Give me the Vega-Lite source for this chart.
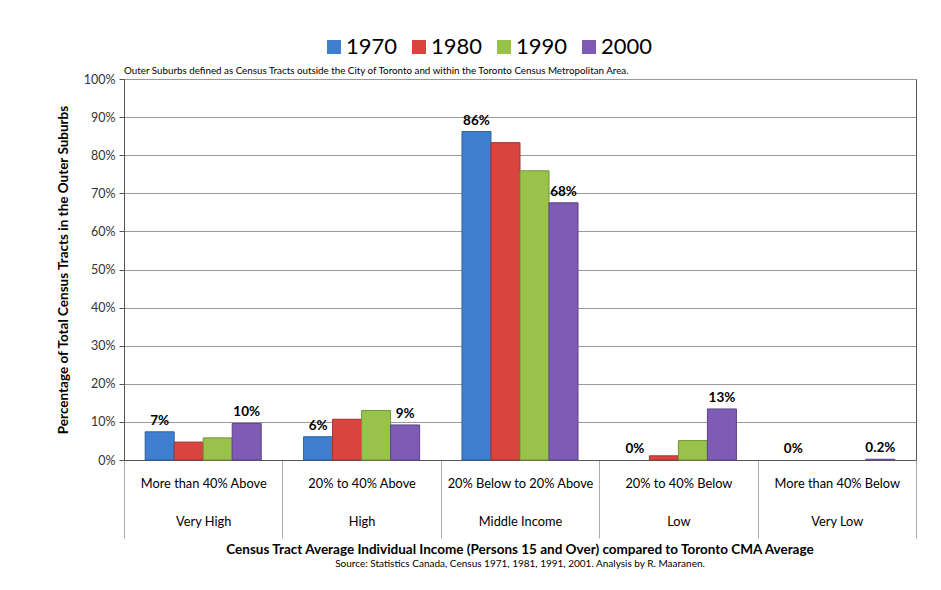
{
  "$schema": "https://vega.github.io/schema/vega-lite/v6.json",
  "width": 792,
  "height": 381,
  "autosize": "none",
  "padding": {"left": 124, "top": 79, "right": 25, "bottom": 130},
  "background": "white",
  "config": {
    "font": "Lato",
    "view": {"stroke": "#555", "strokeWidth": 1},
    "axisY": {
      "titleFontSize": 13.5,
      "titleFontWeight": "bold",
      "titleColor": "#000",
      "titlePadding": 13,
      "labelFontSize": 12.5,
      "labelColor": "#333",
      "tickSize": 5,
      "labelPadding": 4,
      "grid": true,
      "gridColor": "#999",
      "domainColor": "#555",
      "tickColor": "#555",
      "labelOverlap": false
    }
  },
  "title": {
    "text": "Census Tract Average Individual Income (Persons 15 and Over) compared to Toronto CMA Average",
    "subtitle": "Source: Statistics Canada, Census 1971, 1981, 1991, 2001. Analysis by R. Maaranen.",
    "orient": "bottom",
    "anchor": "middle",
    "frame": "group",
    "fontSize": 13.5,
    "fontWeight": "bold",
    "color": "#000",
    "subtitleFontSize": 10,
    "subtitleColor": "#000",
    "offset": 4,
    "subtitlePadding": 3
  },
  "data": {
    "values": [
      {"group": "More than 40% Above|Very High", "year": "1970", "value": 7.4, "label": "7%"},
      {"group": "More than 40% Above|Very High", "year": "1980", "value": 4.7, "label": ""},
      {"group": "More than 40% Above|Very High", "year": "1990", "value": 5.8, "label": ""},
      {"group": "More than 40% Above|Very High", "year": "2000", "value": 9.6, "label": "10%"},
      {"group": "20% to 40% Above|High", "year": "1970", "value": 6.1, "label": "6%"},
      {"group": "20% to 40% Above|High", "year": "1980", "value": 10.7, "label": ""},
      {"group": "20% to 40% Above|High", "year": "1990", "value": 13.0, "label": ""},
      {"group": "20% to 40% Above|High", "year": "2000", "value": 9.2, "label": "9%"},
      {"group": "20% Below to 20% Above|Middle Income", "year": "1970", "value": 86.2, "label": "86%"},
      {"group": "20% Below to 20% Above|Middle Income", "year": "1980", "value": 83.3, "label": ""},
      {"group": "20% Below to 20% Above|Middle Income", "year": "1990", "value": 75.9, "label": ""},
      {"group": "20% Below to 20% Above|Middle Income", "year": "2000", "value": 67.5, "label": "68%"},
      {"group": "20% to 40% Below|Low", "year": "1970", "value": 0, "label": "0%"},
      {"group": "20% to 40% Below|Low", "year": "1980", "value": 1.1, "label": ""},
      {"group": "20% to 40% Below|Low", "year": "1990", "value": 5.1, "label": ""},
      {"group": "20% to 40% Below|Low", "year": "2000", "value": 13.4, "label": "13%"},
      {"group": "More than 40% Below|Very Low", "year": "1970", "value": 0, "label": "0%"},
      {"group": "More than 40% Below|Very Low", "year": "1980", "value": 0, "label": ""},
      {"group": "More than 40% Below|Very Low", "year": "1990", "value": 0, "label": ""},
      {"group": "More than 40% Below|Very Low", "year": "2000", "value": 0.2, "label": "0.2%"}
    ]
  },
  "encoding": {
    "x": {
      "field": "group",
      "type": "nominal",
      "scale": {
        "domain": [
          "More than 40% Above|Very High",
          "20% to 40% Above|High",
          "20% Below to 20% Above|Middle Income",
          "20% to 40% Below|Low",
          "More than 40% Below|Very Low"
        ],
        "paddingInner": 0,
        "paddingOuter": 0
      },
      "axis": {
        "title": null,
        "labelExpr": "isValid(datum.value) ? split(datum.value, '|') : ''",
        "labelAngle": 0,
        "labelFontSize": 12.8,
        "labelColor": "#000",
        "labelLineHeight": 38,
        "labelPadding": -61,
        "tickBand": "extent",
        "tickSize": 78,
        "tickColor": "#aaa",
        "domainColor": "#555",
        "grid": false
      }
    }
  },
  "layer": [
    {
      "mark": {"type": "bar", "strokeWidth": 1},
      "encoding": {
        "xOffset": {"field": "year", "type": "nominal", "scale": {"paddingOuter": 0.73, "paddingInner": 0}},
        "y": {
          "field": "value",
          "type": "quantitative",
          "scale": {"domain": [0, 100]},
          "axis": {
            "title": "Percentage of Total Census Tracts in the Outer Suburbs",
            "values": [0, 10, 20, 30, 40, 50, 60, 70, 80, 90, 100],
            "labelExpr": "datum.value + '%'"
          }
        },
        "color": {
          "field": "year",
          "type": "nominal",
          "scale": {"domain": ["1970", "1980", "1990", "2000"], "range": ["#3f7fd0", "#d9443f", "#99c24a", "#7e5bb5"]},
          "legend": {
            "orient": "none",
            "legendX": 199,
            "legendY": -43,
            "direction": "horizontal",
            "columns": 4,
            "title": null,
            "labelFontSize": 22,
            "labelColor": "#000",
            "symbolType": "square",
            "symbolSize": 196,
            "symbolStrokeWidth": 0,
            "columnPadding": 10,
            "labelOffset": 1
          }
        },
        "stroke": {
          "condition": {"test": "datum.value == 0", "value": null},
          "field": "year",
          "type": "nominal",
          "scale": {"domain": ["1970", "1980", "1990", "2000"], "range": ["#2f5f9e", "#a33330", "#739238", "#5e4488"]},
          "legend": null
        }
      }
    },
    {
      "transform": [{"filter": "datum.label != ''"}],
      "mark": {"type": "text", "dy": -4, "baseline": "bottom", "fontWeight": "bold", "fontSize": 13.5, "color": "#000"},
      "encoding": {
        "xOffset": {"field": "year", "type": "nominal"},
        "y": {
          "field": "value",
          "type": "quantitative",
          "axis": {
            "title": "Percentage of Total Census Tracts in the Outer Suburbs",
            "values": [0, 10, 20, 30, 40, 50, 60, 70, 80, 90, 100],
            "labelExpr": "datum.value + '%'"
          }
        },
        "text": {"field": "label"}
      }
    },
    {
      "data": {"values": [{"note": "Outer Suburbs defined as Census Tracts outside the City of Toronto and within the Toronto Census Metropolitan Area."}]},
      "mark": {"type": "text", "align": "left", "baseline": "bottom", "dy": -3, "fontSize": 9.8, "color": "#000"},
      "encoding": {
        "x": {"datum": "More than 40% Above|Very High", "type": "nominal", "bandPosition": 0},
        "y": {
          "datum": 100,
          "type": "quantitative",
          "axis": {
            "title": "Percentage of Total Census Tracts in the Outer Suburbs",
            "values": [0, 10, 20, 30, 40, 50, 60, 70, 80, 90, 100],
            "labelExpr": "datum.value + '%'"
          }
        },
        "text": {"field": "note"}
      }
    }
  ]
}
